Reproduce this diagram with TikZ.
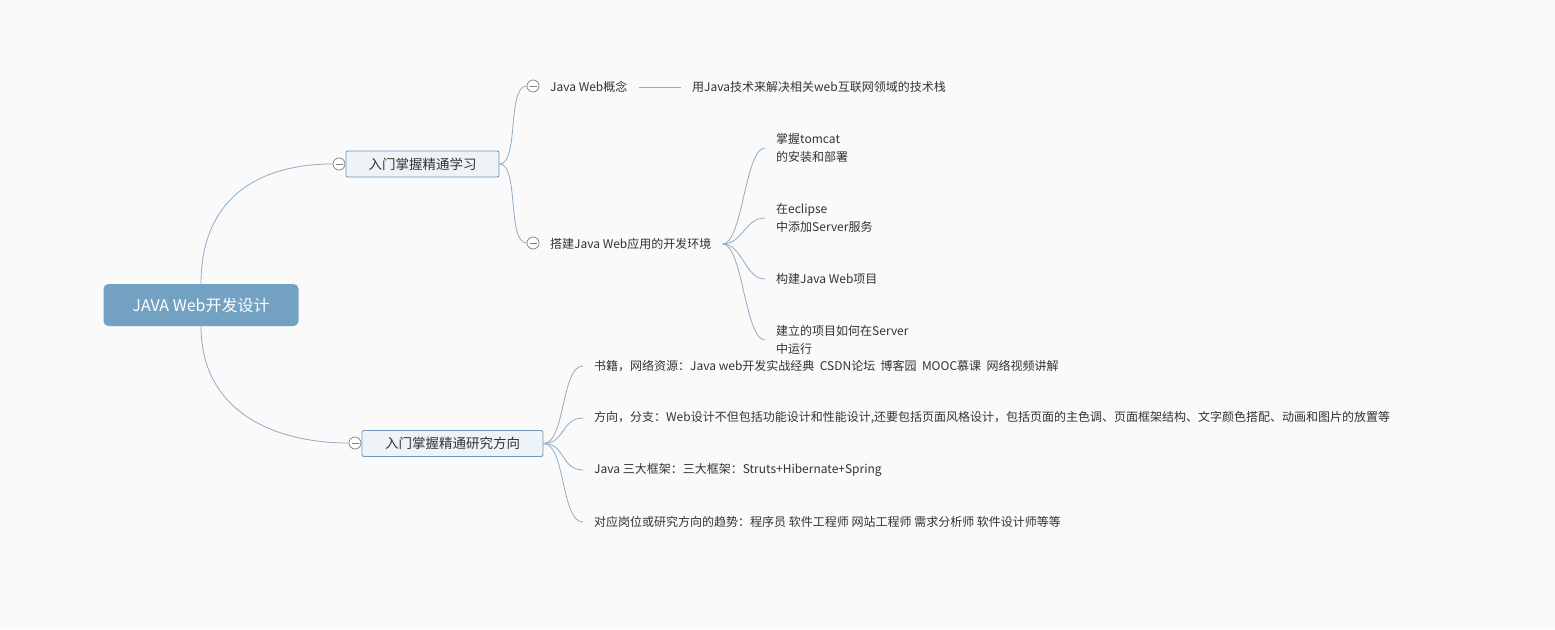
\documentclass[tikz,border=0pt]{standalone}
\usepackage{fontspec}
\setmainfont{Noto Sans CJK SC}
\usetikzlibrary{positioning}
\definecolor{linkblue}{HTML}{8EADC7}
\definecolor{rootblue}{HTML}{73A1C2}
\definecolor{boxfill}{HTML}{EEF3F7}
\definecolor{boxline}{HTML}{6F98BA}
\definecolor{bgcol}{HTML}{FAFAFB}
\definecolor{txt}{HTML}{333333}

\begin{document}
\begin{tikzpicture}[x=1pt,y=-1pt,
    every node/.style={text=txt,font=\fontsize{12}{18}\selectfont},
    rootbox/.style={fill=rootblue,rounded corners=5pt,minimum width=195pt,minimum height=42pt,text=white,font=\fontsize{16}{18}\selectfont},
    topicbox/.style={draw=boxline,line width=0.9pt,fill=boxfill,rounded corners=2pt,minimum height=26pt,font=\fontsize{13.5}{16}\selectfont},
    leaf/.style={anchor=west,inner xsep=11pt,align=left},
    fold/.style={circle,draw=gray,line width=0.7pt,fill=white,minimum size=12pt,inner sep=0pt,
      path picture={\draw[gray,line width=0.7pt] ([xshift=2.5pt]path picture bounding box.west) -- ([xshift=-2.5pt]path picture bounding box.east);}},
    link/.style={draw=linkblue,line width=0.8pt}]
  \fill[bgcol] (0,0) rectangle (1555,629);

  % centre and main topics
  \node[rootbox] (root) at (201,305) {JAVA Web开发设计};
  \node[topicbox,minimum width=153pt] (study) at (422.5,164) {入门掌握精通学习};
  \node[fold] (fstudy) at (339,164) {};
  \node[topicbox,minimum width=181pt] (research) at (452.5,443.5) {入门掌握精通研究方向};
  \node[fold] (fresearch) at (355,443) {};

  % first topic
  \node[fold] (fconcept) at (533,86) {};
  \node[leaf] (concept) at (539,87) {Java Web概念};
  \node[leaf] (stack) at (681,87) {用Java技术来解决相关web互联网领域的技术栈};
  \node[fold] (fenv) at (533,243) {};
  \node[leaf] (env) at (539,244) {搭建Java Web应用的开发环境};
  \node[leaf] (tomcat) at (765,148) {掌握tomcat\\的安装和部署};
  \node[leaf] (eclipse) at (765,218) {在eclipse\\中添加Server服务};
  \node[leaf] (project) at (765,279) {构建Java Web项目};
  \node[leaf] (run) at (765,340) {建立的项目如何在Server\\中运行};

  % second topic
  \node[leaf] (books) at (583,366) {书籍，网络资源：Java web开发实战经典\ \ CSDN论坛\ \ 博客园\ \ MOOC慕课\ \ 网络视频讲解};
  \node[leaf] (branch) at (583,418) {方向，分支：Web设计不但包括功能设计和性能设计,还要包括页面风格设计，包括页面的主色调、页面框架结构、文字颜色搭配、动画和图片的放置等};
  \node[leaf] (frame) at (583,470) {Java 三大框架：三大框架：Struts+Hibernate+Spring};
  \node[leaf] (jobs) at (583,522) {对应岗位或研究方向的趋势：程序员 软件工程师 网站工程师 需求分析师 软件设计师等等};

  % connectors
  \draw[link] (root.north) .. controls +(0,-85) and +(-75,0) .. (fstudy.west);
  \draw[link] (root.south) .. controls +(0,85) and +(-75,0) .. (fresearch.west);
  \draw[link] (study.east) .. controls +(20,0) and +(-20,0) .. (fconcept.west);
  \draw[link] (study.east) .. controls +(20,0) and +(-20,0) .. (fenv.west);
  \draw[link] (concept.east) -- (stack.west);
  \foreach \n in {tomcat,eclipse,project,run}
    \draw[link] (env.east) .. controls +(20,0) and +(-20,0) .. (\n.west);
  \foreach \n in {books,branch,frame,jobs}
    \draw[link] (research.east) .. controls +(22,0) and +(-22,0) .. (\n.west);
\end{tikzpicture}
\end{document}
